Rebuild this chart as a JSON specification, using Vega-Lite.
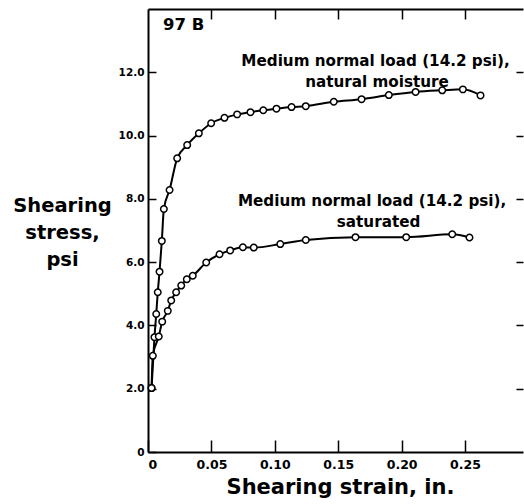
{
  "$schema": "https://vega.github.io/schema/vega-lite/v6.json",
  "width": 375,
  "height": 443,
  "autosize": {"type": "none"},
  "padding": {"left": 148, "top": 9, "right": 1, "bottom": 52},
  "config": {
    "view": {"stroke": null},
    "font": "DejaVu Sans",
    "axis": {"grid": false, "domainColor": "black", "tickColor": "black", "labelColor": "black", "titleColor": "black", "domainWidth": 2, "tickWidth": 1.5, "labelFontWeight": "bold", "titleFontWeight": "bold"}
  },
  "datasets": {
    "curves": [
      {"series": "natural", "strain": 0.0028, "stress": 2.02},
      {"series": "natural", "strain": 0.0051, "stress": 3.63},
      {"series": "natural", "strain": 0.0065, "stress": 4.36},
      {"series": "natural", "strain": 0.0077, "stress": 5.05},
      {"series": "natural", "strain": 0.0091, "stress": 5.70},
      {"series": "natural", "strain": 0.0109, "stress": 6.67},
      {"series": "natural", "strain": 0.0125, "stress": 7.68},
      {"series": "natural", "strain": 0.0170, "stress": 8.28},
      {"series": "natural", "strain": 0.0230, "stress": 9.28},
      {"series": "natural", "strain": 0.0309, "stress": 9.70},
      {"series": "natural", "strain": 0.0401, "stress": 10.07},
      {"series": "natural", "strain": 0.0498, "stress": 10.39},
      {"series": "natural", "strain": 0.0603, "stress": 10.56},
      {"series": "natural", "strain": 0.0703, "stress": 10.67},
      {"series": "natural", "strain": 0.0808, "stress": 10.74},
      {"series": "natural", "strain": 0.0909, "stress": 10.80},
      {"series": "natural", "strain": 0.1013, "stress": 10.85},
      {"series": "natural", "strain": 0.1132, "stress": 10.90},
      {"series": "natural", "strain": 0.1244, "stress": 10.93},
      {"series": "natural", "strain": 0.1465, "stress": 11.07},
      {"series": "natural", "strain": 0.1684, "stress": 11.15},
      {"series": "natural", "strain": 0.1899, "stress": 11.28},
      {"series": "natural", "strain": 0.2110, "stress": 11.38},
      {"series": "natural", "strain": 0.2320, "stress": 11.43},
      {"series": "natural", "strain": 0.2483, "stress": 11.46},
      {"series": "natural", "strain": 0.2622, "stress": 11.27},
      {"series": "saturated", "strain": 0.0028, "stress": 2.02},
      {"series": "saturated", "strain": 0.0038, "stress": 3.04},
      {"series": "saturated", "strain": 0.0085, "stress": 3.65},
      {"series": "saturated", "strain": 0.0112, "stress": 4.12},
      {"series": "saturated", "strain": 0.0156, "stress": 4.46},
      {"series": "saturated", "strain": 0.0183, "stress": 4.79},
      {"series": "saturated", "strain": 0.0222, "stress": 5.05},
      {"series": "saturated", "strain": 0.0262, "stress": 5.26},
      {"series": "saturated", "strain": 0.0306, "stress": 5.46},
      {"series": "saturated", "strain": 0.0353, "stress": 5.57},
      {"series": "saturated", "strain": 0.0459, "stress": 5.99},
      {"series": "saturated", "strain": 0.0564, "stress": 6.25},
      {"series": "saturated", "strain": 0.0648, "stress": 6.37},
      {"series": "saturated", "strain": 0.0748, "stress": 6.47},
      {"series": "saturated", "strain": 0.0834, "stress": 6.46},
      {"series": "saturated", "strain": 0.1043, "stress": 6.57},
      {"series": "saturated", "strain": 0.1244, "stress": 6.70},
      {"series": "saturated", "strain": 0.1636, "stress": 6.79},
      {"series": "saturated", "strain": 0.2036, "stress": 6.79},
      {"series": "saturated", "strain": 0.2399, "stress": 6.88},
      {"series": "saturated", "strain": 0.2535, "stress": 6.78}
    ],
    "labels": [
      {"text": "97 B", "strain": 0.0281, "stress": 13.49, "size": "big"},
      {"text": "Medium normal load (14.2 psi),", "strain": 0.1794, "stress": 12.36, "size": "mid"},
      {"text": "natural moisture", "strain": 0.1806, "stress": 11.70, "size": "mid"},
      {"text": "Medium normal load (14.2 psi),", "strain": 0.1767, "stress": 7.94, "size": "mid"},
      {"text": "saturated", "strain": 0.1818, "stress": 7.28, "size": "mid"}
    ]
  },
  "resolve": {"axis": {"x": "independent", "y": "independent"}},
  "layer": [
    {
      "data": {"name": "curves"},
      "mark": {"type": "line", "color": "black", "strokeWidth": 2, "interpolate": "monotone"},
      "encoding": {
        "x": {"field": "strain", "type": "quantitative",
              "scale": {"domain": [0, 0.2957], "nice": false, "zero": false},
              "axis": {"orient": "bottom", "values": [0, 0.05, 0.1, 0.15, 0.2, 0.25],
                       "labelExpr": "datum.value == 0 ? '0' : format(datum.value, '.2f')",
                       "tickSize": -12, "labelPadding": 18.5, "labelFontSize": 12.5,
                       "title": "Shearing strain, in.", "titleFontSize": 21,
                       "titleX": 192, "titleY": 41, "titleBaseline": "alphabetic", "titleAnchor": null, "titleAlign": "center"}},
        "y": {"field": "stress", "type": "quantitative",
              "scale": {"domain": [0, 14], "nice": false},
              "axis": {"orient": "left", "values": [0, 2, 4, 6, 8, 10, 12],
                       "labelExpr": "datum.value == 0 ? '0' : format(datum.value, '.1f')",
                       "tickSize": -8, "labelPadding": 12, "labelFontSize": 10.5,
                       "title": ["Shearing", "stress,", "psi"], "titleAngle": 0, "titleFontSize": 19.5,
                       "titleX": -86, "titleY": 202, "titleAlign": "center", "titleBaseline": "alphabetic",
                       "titleLineHeight": 27, "titleAnchor": null}},
        "detail": {"field": "series"}
      }
    },
    {
      "data": {"name": "curves"},
      "mark": {"type": "point", "shape": "circle", "filled": true, "fill": "white", "stroke": "black", "strokeWidth": 1.5, "size": 42, "opacity": 1},
      "encoding": {
        "x": {"field": "strain", "type": "quantitative", "axis": null},
        "y": {"field": "stress", "type": "quantitative", "axis": null}
      }
    },
    {
      "data": {"name": "labels"},
      "mark": {"type": "text", "font": "DejaVu Sans", "fontWeight": "bold", "align": "center", "baseline": "middle", "color": "black"},
      "encoding": {
        "x": {"field": "strain", "type": "quantitative",
              "axis": {"orient": "top", "values": [0.05, 0.1, 0.15, 0.2, 0.25], "labels": false, "tickSize": -10, "title": null}},
        "y": {"field": "stress", "type": "quantitative",
              "axis": {"orient": "right", "values": [2, 4, 6, 8, 10, 12], "labels": false, "domain": false, "tickSize": -7, "title": null}},
        "text": {"field": "text"},
        "size": {"field": "size", "type": "nominal", "scale": {"domain": ["big", "mid"], "range": [16.5, 15.2]}, "legend": null}
      }
    }
  ]
}
